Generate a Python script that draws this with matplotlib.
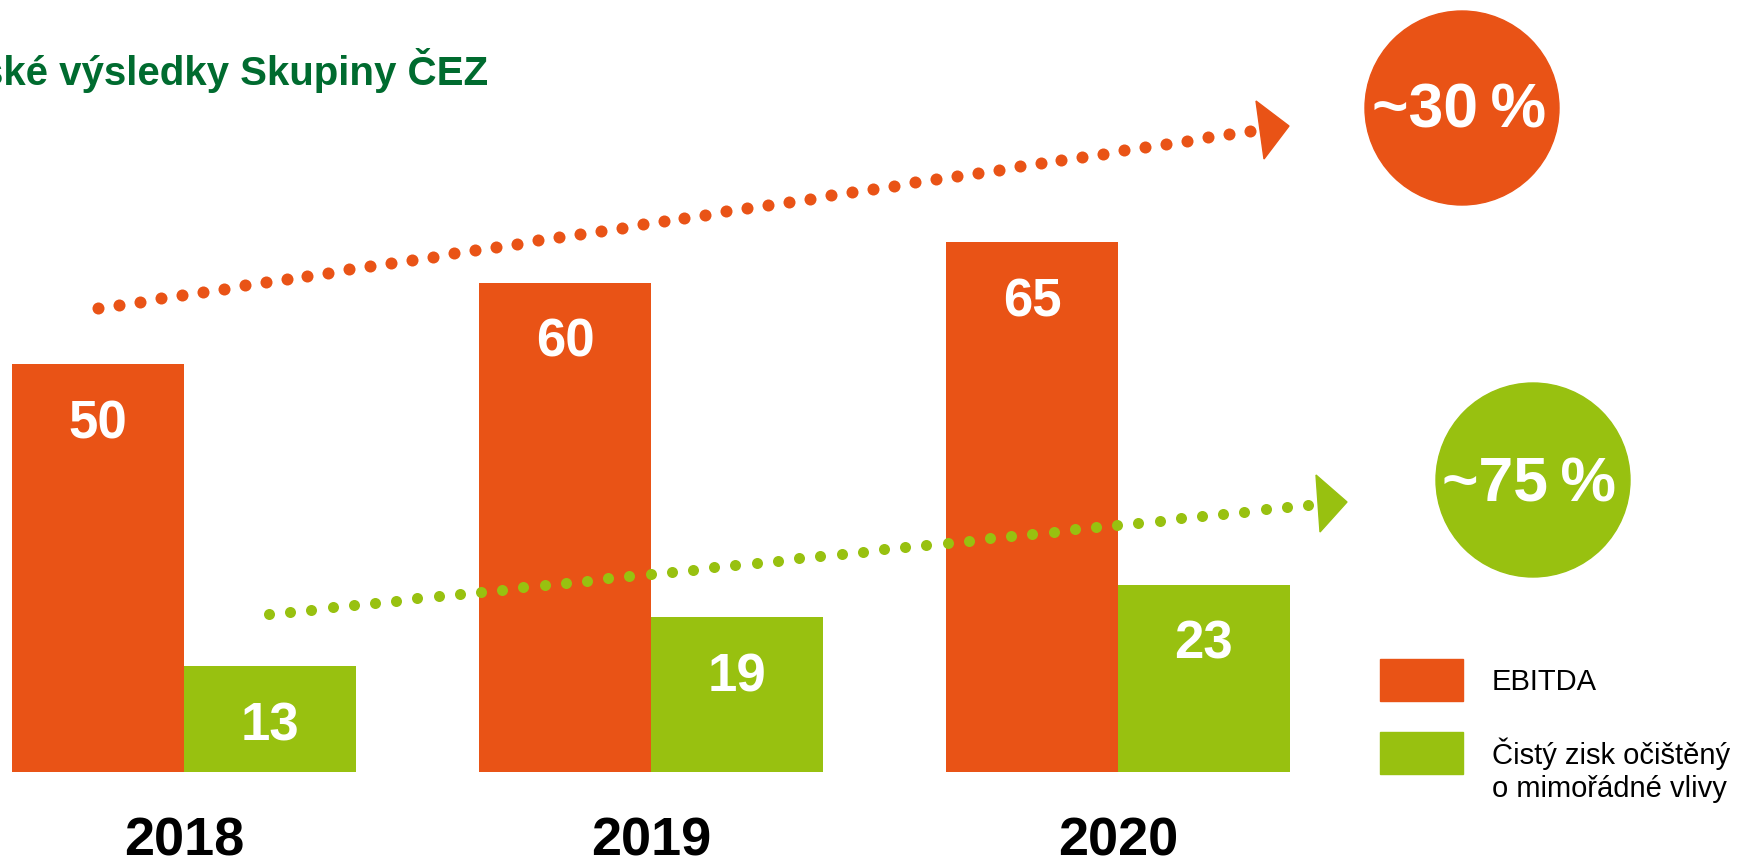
import numpy as np
import matplotlib
matplotlib.use("Agg")
import matplotlib.pyplot as plt
from matplotlib.patches import Circle, Polygon, Rectangle

plt.rcParams['font.family'] = ['Liberation Sans', 'DejaVu Sans']

# data
years = ['2018', '2019', '2020']
ebitda = [50, 60, 65]
cisty_zisk = [13, 19, 23]
growth_labels = ['~30\u2009%', '~75\u2009%']
legend_labels = ['EBITDA', 'Čistý zisk očištěný\no mimořádné vlivy']
title = 'Hospodářské výsledky Skupiny ČEZ'

orange = '#E95316'
green = '#98C110'
dark_green = '#006B2F'

W, H = 1739, 868
fig = plt.figure(figsize=(W / 100, H / 100), dpi=100)

# bars
ax = fig.add_axes([0, 0, 1, 1])
x = np.arange(len(years))
w = 0.368
ax.bar(x - w / 2, ebitda, width=w, color=orange)
ax.bar(x + w / 2, cisty_zisk, width=w, color=green)
ax.set_xlim(-0.394, 3.33)
ax.set_ylim(-11.78, 94.72)
ax.axis('off')

for xi, v in zip(x - w / 2, ebitda):
    ax.annotate(str(v), (xi, v), xytext=(0, -74), textcoords='offset pixels',
                ha='center', va='baseline', fontsize=38, fontweight='bold', color='white')
for xi, v in zip(x + w / 2, cisty_zisk):
    ax.annotate(str(v), (xi, v), xytext=(0, -74), textcoords='offset pixels',
                ha='center', va='baseline', fontsize=38, fontweight='bold', color='white')
for xi, y in zip(x, years):
    ax.annotate(y, (xi, 0), xytext=(0, -84), textcoords='offset pixels',
                ha='center', va='baseline', fontsize=39, fontweight='bold', color='black')

# overlay in pixel coordinates for the decorations
ov = fig.add_axes([0, 0, 1, 1], facecolor='none')
ov.set_xlim(0, W)
ov.set_ylim(H, 0)
ov.axis('off')

ov.text(488, 85, title, ha='right', va='baseline', fontsize=29,
        fontweight='bold', color=dark_green)

# dotted trend arrows
ox = np.linspace(98, 1250, 56)
oy = np.linspace(308, 131, 56)
ov.scatter(ox, oy, s=75, color=orange, linewidths=0, zorder=5)
ov.add_patch(Polygon([(1256, 101), (1289, 126), (1264, 159)], closed=True,
                     color=orange, zorder=5))

gx = np.linspace(269, 1308, 50)
gy = np.linspace(614, 505, 50)
ov.scatter(gx, gy, s=63, color=green, linewidths=0, zorder=5)
ov.add_patch(Polygon([(1316, 475), (1347, 502), (1320, 532)], closed=True,
                     color=green, zorder=5))

# growth circles
ov.add_patch(Circle((1462, 108), 97, color=orange))
ov.text(1459, 127, growth_labels[0], ha='center', va='baseline', fontsize=45,
        fontweight='bold', color='white')
ov.add_patch(Circle((1533, 480), 97, color=green))
ov.text(1529, 502, growth_labels[1], ha='center', va='baseline', fontsize=45,
        fontweight='bold', color='white')

# legend
ov.add_patch(Rectangle((1380, 659), 83, 42, color=orange))
ov.add_patch(Rectangle((1380, 732), 83, 42, color=green))
ov.text(1492, 690, legend_labels[0], ha='left', va='baseline', fontsize=21, color='black')
ov.text(1492, 797, legend_labels[1], ha='left', va='baseline', fontsize=21,
        color='black', linespacing=1.25)

fig.savefig('out.png', dpi=100)
